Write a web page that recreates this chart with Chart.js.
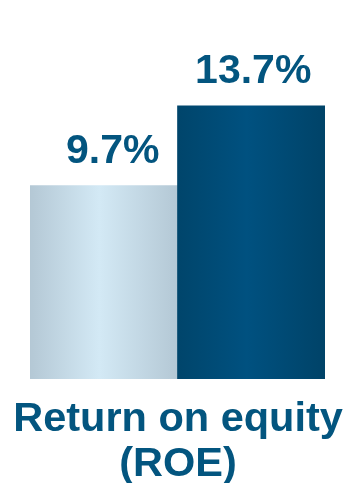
<!DOCTYPE html>
<html>
<head>
<meta charset="utf-8">
<script src="https://cdn.jsdelivr.net/npm/chart.js@4"></script>
<style>
  html, body { margin: 0; padding: 0; background: #fff; }
  #wrap { width: 351px; height: 483px; }
</style>
</head>
<body>
<div id="wrap"><canvas id="grafico_roe" width="351" height="483"></canvas></div>
<script>
// valores do gráfico
const periodos = ['Anterior', 'Atual'];
const roe = [9.7, 13.7];
const rotulos = ['9.7%', '13.7%'];
const titulo = ['Return on equity', '(ROE)'];

const azulTexto = '#03557f';
const fonte = "'Liberation Sans', Arial, sans-serif";

// cores do degradê de cada barra (borda, centro, borda)
const degrades = [
  ['#b4c8d5', '#d3e9f5', '#b4c8d5'],
  ['#00456b', '#005180', '#004368']
];

function corBarra(ctx) {
  const chart = ctx.chart;
  const area = chart.chartArea;
  const i = ctx.dataIndex;
  if (!area || !chart.scales.x) return degrades[i][1];
  const meio = chart.scales.x.getPixelForValue(i);
  const metade = area.width / periodos.length / 2;
  const g = chart.ctx.createLinearGradient(meio - metade, 0, meio + metade, 0);
  g.addColorStop(0, degrades[i][0]);
  g.addColorStop(0.47, degrades[i][1]);
  g.addColorStop(1, degrades[i][2]);
  return g;
}

// escreve o valor acima de cada barra
const valoresNoTopo = {
  id: 'valoresNoTopo',
  afterDatasetsDraw(chart) {
    const ctx = chart.ctx;
    ctx.save();
    ctx.font = 'bold 41px ' + fonte;
    ctx.fillStyle = azulTexto;
    ctx.textAlign = 'center';
    ctx.textBaseline = 'alphabetic';
    chart.getDatasetMeta(0).data.forEach((barra, i) => {
      ctx.fillText(rotulos[i], barra.x + (i === 0 ? 9 : 2), barra.y - 23);
    });
    ctx.restore();
  }
};

// título embaixo das barras, sem limite de largura
const tituloInferior = {
  id: 'tituloInferior',
  afterDraw(chart) {
    const ctx = chart.ctx;
    const base = chart.chartArea.bottom;
    ctx.save();
    ctx.font = 'bold 41.5px ' + fonte;
    ctx.fillStyle = azulTexto;
    ctx.textAlign = 'center';
    ctx.textBaseline = 'alphabetic';
    titulo.forEach((linha, i) => {
      ctx.fillText(linha, 178, base + 52 + i * 45);
    });
    ctx.restore();
  }
};

new Chart(document.getElementById('grafico_roe'), {
  type: 'bar',
  data: {
    labels: periodos,
    datasets: [{
      data: roe,
      backgroundColor: corBarra,
      borderWidth: 0,
      categoryPercentage: 1,
      barPercentage: 1
    }]
  },
  options: {
    responsive: false,
    animation: false,
    layout: { padding: { left: 30, right: 26, top: 0, bottom: 104 } },
    scales: {
      x: { display: false },
      y: { display: false, min: 0, max: 19 }
    },
    plugins: {
      legend: { display: false },
      tooltip: { enabled: false },
      title: { display: false }
    }
  },
  plugins: [valoresNoTopo, tituloInferior]
});
</script>
</body>
</html>
